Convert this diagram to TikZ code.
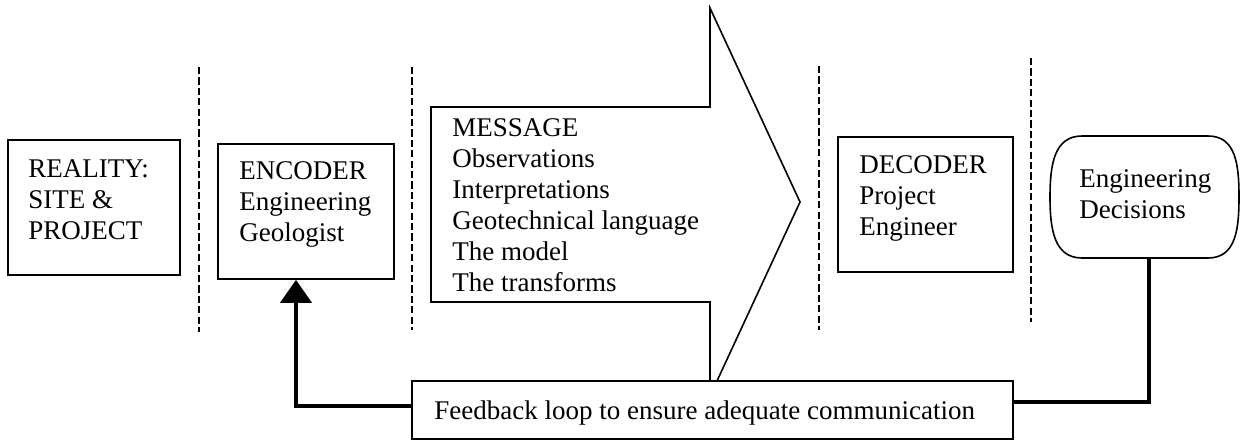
\documentclass[tikz,border=0pt]{standalone}
\usepackage{fontspec}
\setmainfont{Liberation Serif}
\usetikzlibrary{arrows.meta}

\tikzset{
  box/.style={draw, line width=0.8pt, fill=white, inner sep=0pt},
  txt/.style={anchor=north west, align=left, inner sep=0pt,
              font=\fontsize{13.5}{15.5}\selectfont},
  divider/.style={line width=1.2pt, dash pattern=on 3.6pt off 1.6pt},
  loop/.style={line width=2pt},
}

\begin{document}
\begin{tikzpicture}[x=0.5pt, y=-0.5pt]
  \useasboundingbox (0,0) rectangle (1241,441);

  % stage dividers
  \draw[divider] (199,67)  -- (199,332);
  \draw[divider] (412,67)  -- (412,330);
  \draw[divider] (819,66)  -- (819,330);
  \draw[divider] (1031,58) -- (1031,322);

  % stage boxes
  \node[box, minimum width=86pt, minimum height=67.5pt] (reality) at (94,207.5) {};
  \node[txt] (realitytxt) at (28,159) {REALITY:\\SITE \&\\PROJECT};

  \node[box, minimum width=88pt, minimum height=67.5pt] (encoder) at (306,211.5) {};
  \node[txt] (encodertxt) at (239,161) {ENCODER\\Engineering\\Geologist};

  \node[box, minimum width=87.5pt, minimum height=67.5pt] (decoder) at (925.5,204.5) {};
  \node[txt] (decodertxt) at (859,155) {DECODER\\Project\\Engineer};

  % terminal with bulging ends
  \node[inner sep=0pt, minimum width=94.5pt, minimum height=61pt] (decisions) at (1144.5,197) {};
  \draw[line width=0.8pt, fill=white]
    (1082,136) -- (1208,136)
    .. controls (1236,136) and (1239,165) .. (1239,197)
    .. controls (1239,229) and (1236,258) .. (1208,258)
    -- (1082,258)
    .. controls (1054,258) and (1050,229) .. (1050,197)
    .. controls (1050,165) and (1054,136) .. cycle;
  \node[txt] (decisionstxt) at (1079,169) {Engineering\\Decisions};

  % the message arrow
  \draw[line width=0.8pt, fill=white, line join=miter]
    (431,107) -- (710,107) -- (710,8) -- (800,202) -- (710,396)
    -- (710,302) -- (431,302) -- cycle;
  \node[txt] (messagetxt) at (452,118)
    {MESSAGE\\Observations\\Interpretations\\Geotechnical language\\The model\\The transforms};

  % feedback loop
  \node[box, minimum width=300.5pt, minimum height=29pt] (feedback) at (712.5,410) {};
  \node[txt] (feedbacktxt) at (434,400) {Feedback loop to ensure adequate communication};

  \draw[loop, -{Triangle[length=11.5pt, width=15.5pt]}]
    ([yshift=2pt]feedback.west) -| ([xshift=-5pt]encoder.south);
  \draw[loop] ([xshift=2pt]decisions.south) |- ([yshift=4pt]feedback.east);
\end{tikzpicture}
\end{document}
